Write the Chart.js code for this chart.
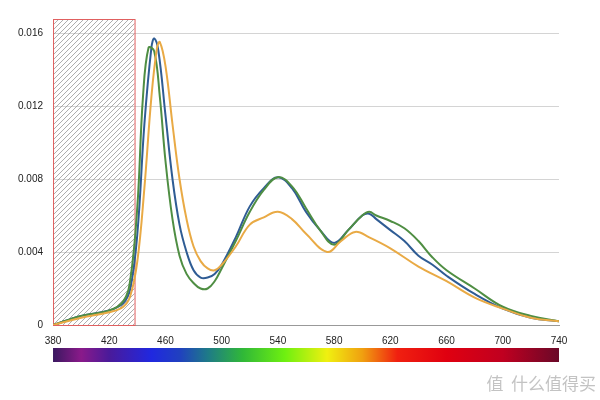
<!DOCTYPE html>
<html>
<head>
<meta charset="utf-8">
<script src="https://cdn.jsdelivr.net/npm/chart.js@4"></script>
<style>
  html, body { margin: 0; padding: 0; background: #fff; }
  #wrap { width: 600px; height: 400px; }
</style>
</head>
<body>
<div id="wrap"><canvas id="spectrum"></canvas></div>
<script>
// wavelength (nm) for each sample, one list per series
const blueNm = [380, 400, 420, 430, 435, 440, 445, 450, 452, 455, 460, 465, 470, 475, 480, 485, 490, 495, 500, 510, 520, 530, 540, 550, 560, 570, 580, 590, 600, 605, 610, 620, 630, 640, 650, 660, 680, 700, 720, 740];
const blueVal = [0, 0.0005, 0.0008, 0.0012, 0.002, 0.005, 0.011, 0.0152, 0.0157, 0.015, 0.0115, 0.008, 0.0055, 0.004, 0.003, 0.0026, 0.0026, 0.0028, 0.0033, 0.0048, 0.0065, 0.0075, 0.0081, 0.0075, 0.0062, 0.0052, 0.0045, 0.0052, 0.006, 0.0061, 0.0058, 0.0052, 0.0046, 0.0038, 0.0033, 0.0027, 0.0017, 0.0009, 0.0004, 0.0002];

const greenNm = [380, 400, 420, 430, 435, 440, 444, 448, 452, 456, 460, 465, 470, 475, 480, 485, 490, 495, 500, 510, 520, 530, 540, 550, 560, 570, 580, 590, 600, 605, 610, 620, 630, 640, 650, 660, 680, 700, 720, 740];
const greenVal = [0, 0.0005, 0.0008, 0.0013, 0.0025, 0.0065, 0.0125, 0.0152, 0.015, 0.0125, 0.009, 0.0058, 0.0038, 0.0028, 0.0023, 0.002, 0.002, 0.0024, 0.0031, 0.0046, 0.0062, 0.0074, 0.0081, 0.0076, 0.0064, 0.0052, 0.0044, 0.0052, 0.006, 0.0062, 0.006, 0.0057, 0.0053, 0.0046, 0.0037, 0.003, 0.002, 0.001, 0.0005, 0.0002];

const orangeNm = [380, 400, 420, 430, 435, 440, 445, 450, 454, 456, 460, 465, 470, 475, 480, 485, 490, 495, 500, 510, 520, 530, 540, 550, 560, 575, 585, 595, 605, 620, 640, 660, 680, 700, 720, 740];
const orangeVal = [0, 0.0004, 0.0007, 0.001, 0.0016, 0.0035, 0.0075, 0.0125, 0.0152, 0.0155, 0.0142, 0.011, 0.008, 0.0058, 0.0043, 0.0035, 0.0031, 0.003, 0.0033, 0.0043, 0.0055, 0.0059, 0.0062, 0.0058, 0.005, 0.004, 0.0046, 0.0051, 0.0048, 0.0042, 0.0032, 0.0024, 0.0015, 0.0009, 0.0004, 0.0002];

const xTicks = [380, 420, 460, 500, 540, 580, 620, 660, 700, 740];
const yTicks = [0, 0.004, 0.008, 0.012, 0.016];
const hatchRange = [380, 438];   // shaded band, nm

function pts(xs, ys) { return xs.map((x, i) => ({ x, y: ys[i] })); }

function line(label, data, color) {
  return { label, data, borderColor: color, borderWidth: 2, pointRadius: 0, tension: 0.4, fill: false };
}

// hatched box + spectrum bar + watermark
const decor = {
  id: "decor",
  beforeDatasetsDraw(chart) {
    const { ctx, scales: { x, y } } = chart;
    const x0 = x.getPixelForValue(hatchRange[0]);
    const x1 = x.getPixelForValue(hatchRange[1]);
    const yb = y.getPixelForValue(0);
    const yt = y.getPixelForValue(0.016) - 14;
    ctx.save();
    ctx.beginPath();
    ctx.rect(x0, yt, x1 - x0, yb - yt);
    ctx.clip();
    ctx.strokeStyle = "#8a8a8a";
    ctx.lineWidth = 0.7;
    for (let k = -400; k < 200; k += 5) {
      ctx.beginPath();
      ctx.moveTo(x0 + k, yb);
      ctx.lineTo(x0 + k + (yb - yt), yt);
      ctx.stroke();
    }
    ctx.restore();
    ctx.save();
    ctx.strokeStyle = "#e06060";
    ctx.lineWidth = 1;
    ctx.strokeRect(x0 + 0.5, yt + 0.5, x1 - x0, yb - yt);
    ctx.restore();
  },
  afterDraw(chart) {
    const { ctx, scales: { x } } = chart;
    const l = x.getPixelForValue(380), r = x.getPixelForValue(740);
    const stops = [
      [380, "#3a1860"], [400, "#8a1a8a"], [420, "#4a1a9a"], [450, "#2028e0"],
      [470, "#2040c0"], [490, "#1e7a88"], [515, "#30b838"], [545, "#6ef010"],
      [575, "#f0f010"], [600, "#f0a010"], [625, "#f02010"], [660, "#e00010"],
      [700, "#c00020"], [740, "#6a0828"]
    ];
    const g = ctx.createLinearGradient(l, 0, r, 0);
    stops.forEach(([nm, c]) => g.addColorStop((nm - 380) / 360, c));
    ctx.save();
    ctx.fillStyle = g;
    ctx.fillRect(l, 348, r - l, 14);
    ctx.fillStyle = "rgba(180,180,180,0.8)";
    ctx.font = "17px 'Noto Sans CJK SC'";
    ctx.textAlign = "right";
    ctx.fillText("值  什么值得买", 596, 390);
    ctx.restore();
  }
};

new Chart(document.getElementById("spectrum").getContext("2d"), {
  type: "line",
  data: {
    datasets: [
      line("orange", pts(orangeNm, orangeVal), "#e9aa45"),
      line("green", pts(greenNm, greenVal), "#4f8e43"),
      line("blue", pts(blueNm, blueVal), "#2f5c94"),
    ]
  },
  options: {
    responsive: true,
    maintainAspectRatio: false,
    animation: false,
    layout: { padding: { top: 33, right: 41, bottom: 51, left: 8 } },
    plugins: { legend: { display: false }, tooltip: { enabled: false } },
    scales: {
      x: {
        type: "linear", min: 380, max: 740,
        afterBuildTicks: (s) => { s.ticks = xTicks.map(v => ({ value: v })); },
        grid: { display: false },
        border: { color: "#999" },
        ticks: { color: "#222", font: { size: 10 }, padding: 2 }
      },
      y: {
        min: 0, max: 0.016,
        afterBuildTicks: (s) => { s.ticks = yTicks.map(v => ({ value: v })); },
        grid: { color: "#d4d4d4", drawTicks: false },
        border: { display: false },
        ticks: { color: "#222", font: { size: 10 }, padding: 10, callback: (v) => String(v) }
      }
    }
  },
  plugins: [decor]
});
</script>
</body>
</html>
